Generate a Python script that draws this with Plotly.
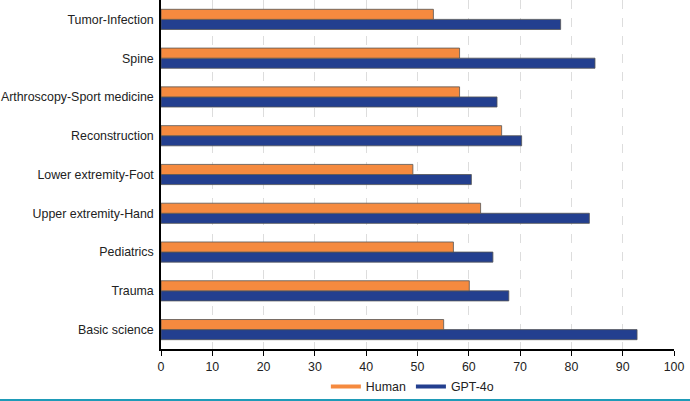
import plotly.graph_objects as go

categories = ["Basic science", "Trauma", "Pediatrics", "Upper extremity-Hand",
              "Lower extremity-Foot", "Reconstruction", "Arthroscopy-Sport medicine",
              "Spine", "Tumor-Infection"]
human = [55.1, 60.1, 57.0, 62.3, 49.1, 66.4, 58.2, 58.2, 53.1]
gpt4o = [92.8, 67.8, 64.7, 83.5, 60.5, 70.3, 65.5, 84.6, 77.9]
x_ticks = list(range(0, 101, 10))

ORANGE = "#F58A3F"
BLUE = "#233F8F"

fig = go.Figure()
fig.add_trace(go.Bar(y=categories, x=gpt4o, orientation="h", name="GPT-4o",
                     marker=dict(color=BLUE, line=dict(color="#555555", width=0.8)),
                     showlegend=False))
fig.add_trace(go.Bar(y=categories, x=human, orientation="h", name="Human",
                     marker=dict(color=ORANGE, line=dict(color="#555555", width=0.8)),
                     showlegend=False))
fig.add_trace(go.Scatter(x=[None], y=[None], mode="lines", name="Human",
                         line=dict(color=ORANGE, width=4)))
fig.add_trace(go.Scatter(x=[None], y=[None], mode="lines", name="GPT-4o",
                         line=dict(color=BLUE, width=4)))

L, R, T, B = 161, 16, 0, 52
PW = 690 - L - R
PH = 401 - T - B

fig.update_layout(
    width=690, height=401,
    margin=dict(l=L, r=R, t=T, b=B, autoexpand=False),
    paper_bgcolor="white", plot_bgcolor="white",
    barmode="group", bargap=0.48, bargroupgap=0.0,
    font=dict(family="Liberation Sans, Arial, sans-serif", size=12.4, color="#222222"),
    showlegend=True,
    legend=dict(orientation="h", x=0.49, xanchor="center", y=-0.066, yanchor="top",
                font=dict(size=12.4), traceorder="normal", itemwidth=30,
                bgcolor="rgba(0,0,0,0)"),
    xaxis=dict(range=[0, 100], tickvals=x_ticks, showgrid=True,
               gridcolor="#DDDDDD", griddash="dash", gridwidth=1,
               showline=True, linecolor="black", linewidth=1.5,
               ticks="outside", ticklen=5, tickcolor="black", zeroline=False,
               automargin=False, fixedrange=True),
    yaxis=dict(categoryorder="array", categoryarray=categories,
               showline=True, linecolor="black", linewidth=1.5,
               ticks="", showgrid=False, ticklabelstandoff=3,
               automargin=False, fixedrange=True),
    shapes=[dict(type="line", xref="paper", yref="paper",
                 x0=-L / PW, x1=1 + R / PW,
                 y0=-(400 - PH) / PH, y1=-(400 - PH) / PH,
                 line=dict(color="#1E9BB8", width=2))],
)

fig.write_html("out.html", config={"displayModeBar": False},
               post_script="document.body.style.margin='0';document.body.style.padding='0';")
